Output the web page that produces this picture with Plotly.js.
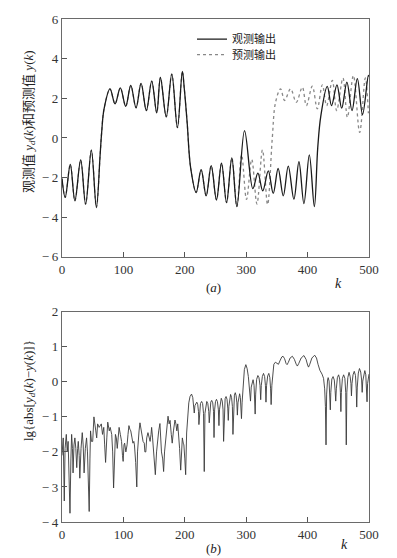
<!DOCTYPE html>
<html>
<head>
<meta charset="utf-8">
<script src="https://cdn.plot.ly/plotly-3.0.1.min.js"></script>
<style>html,body{margin:0;padding:0;background:#fff;}#chart{width:397px;height:558px;}</style>
</head>
<body>
<div id="chart"></div>
<script>
// ---- Panel (a): observed output (solid) ----
const kObs = [0,5.2,13.5,21,30.4,38.5,47.8,56,62,64.6,68.5,78.2,86.4,95,103.8,112,120.6,128.8,137.4,146.1,154.3,160.3,169.8,178.8,188,196,199.2,203.8,209.5,218.5,226.6,234.8,243,251.6,259.8,268,276.6,284.8,297.3,310.8,319,327,336,344,352,360.4,368.5,377.7,385.9,394,402.8,411,416.5,421.5,432,439,447.8,455.5,464,472.3,481,489.5,499,500];
const yObs = [-2.05,-3.0,-1.33,-3.17,-1.11,-3.34,-0.61,-3.51,-0.9,0.28,1.47,2.48,1.72,2.53,1.6,2.65,1.52,2.75,1.38,2.87,1.27,3.05,1.07,3.22,0.52,3.36,2.48,0.79,-1.5,-2.75,-1.6,-2.92,-1.4,-3.12,-1.27,-3.26,-1.01,-3.46,0.37,-2.56,-1.77,-2.67,-1.66,-2.8,-1.54,-2.92,-1.42,-3.09,-1.2,-3.31,-0.85,-3.46,-0.5,1.1,2.6,1.63,2.68,1.5,2.82,1.38,2.99,1.18,3.15,3.1];

// ---- Panel (a): predicted output (dotted) ----
const kPred = [0,5.2,13.5,21,30.4,38.5,47.8,56,62,64.6,68.5,78.2,86.4,95,103.8,112,120.6,128.8,137.4,146.1,154.3,160.3,169.8,178.8,188,196,199.2,203.8,209.5,218.5,226.6,234.8,243,251.6,259.8,268,276.6,284.8,292.5,300.5,309,317.5,326.5,334.8,342.4,347.8,356,362.5,372.3,381.6,391.4,398,407.7,415.8,424,431,440.3,447.3,457.6,464.8,474.6,484.8,494,499];
const yPred = [-2.05,-3.0,-1.33,-3.17,-1.11,-3.34,-0.61,-3.51,-0.9,0.28,1.47,2.48,1.72,2.53,1.6,2.65,1.52,2.75,1.38,2.87,1.27,3.05,1.07,3.22,0.52,3.36,2.48,0.79,-1.5,-2.75,-1.6,-2.92,-1.4,-3.12,-1.27,-3.26,-1.01,-3.46,-0.85,-3.1,-1.08,-3.33,-0.6,-3.36,-0.05,1.8,2.48,1.89,2.48,1.8,2.56,1.63,2.61,1.47,2.68,1.63,2.9,1.38,3.02,1.04,3.15,0.28,3.03,1.25];

// ---- Panel (b): lg|yd - y| ----
const kErr = [0,2,3.7,5,7,8.5,10,11.5,13,14.5,15.7,17,18,19.5,21,22.5,24,25.5,26.5,28,29,31,33,34.5,36,38,40,41.5,42.5,44.3,45.5,46.5,48,50,52,53.5,55,56.5,58,60.5,62,64,66,68,69.5,71,73,74.5,77,78.5,81,82.5,84,85.5,87,88.5,90,91.5,93,95,97,98.5,99.6,101,102,104,106,107.5,109,110.5,112,114,115.5,117,118,120,121.8,123,124,125.5,127,129,130.5,132,134,135,136.5,138,140,142,143.5,145,146,147.5,149,150.5,152,154,155.5,157.5,159.5,161,162,164,165.5,167,168.5,170.5,172.7,174.5,176,178,179.5,181.5,184,185.5,187,188.5,190,191.5,193.3,195,196,197.5,198.5,200,201.4,
203,204.5,206.5,208.5,211,213,214.3,215.4,216.5,218,219.5,221,222.3,223,224,225.5,227.4,229,230.5,231.7,232.8,234.3,235.8,237.5,239,239.8,240.8,242.3,243.8,245.5,246.8,247.6,248.6,250,251.6,253.2,254.7,255.6,256.6,258,259.4,261,262.3,263.2,264.2,265.7,267.2,268.8,270,270.8,271.8,273.2,274.6,276.2,277.5,278.4,279.4,280.8,282.2,283.6,284.8,285.6,286.6,288,289.3,290.5,291.5,292.3,293.3,295,297,299.4,301.5,303.5,305.5,307,308.2,309.8,311.2,312.8,313.9,314.6,315.4,317,319,320.8,322.5,323.6,324.6,326.3,328.2,330,331.3,332.2,333.2,335,336.8,338.5,339.7,340.6,341.8,343.3,345,347.5,350,352.5,355.5,358,360,362.5,365,366.6,368.5,371.5,375.2,378.5,381.5,383.3,385.5,389.5,394,397.5,400,401.5,403.5,407,411.5,414.5,417,420,423.5,426,427.8,429,430,431,432.5,433.5,435,436.2,437,437.8,439.5,441.5,443.5,444.8,445.8,446.8,448.5,450.5,452.3,453.4,454.2,455,456.7,458.7,460.7,462.1,463,463.9,465.5,467.5,469.3,470.6,471.4,472.3,474,476,478,479.2,480,480.9,482.6,484.5,486.5,488,488.9,489.8,491.5,493.2,494.8,496,496.8,497.7,499,500];
const yErr = [-2.1,-1.6,-3.4,-1.9,-1.5,-2.0,-1.7,-2.6,-3.75,-2.2,-1.5,-1.9,-2.6,-1.8,-1.6,-1.9,-2.45,-1.9,-1.7,-2.1,-2.75,-1.9,-1.45,-1.8,-2.6,-1.9,-1.6,-2.0,-2.85,-3.7,-2.2,-1.4,-1.7,-1.7,-1.0,-1.3,-1.4,-1.6,-1.2,-1.3,-1.25,-1.2,-1.5,-1.3,-1.8,-2.3,-1.6,-1.15,-1.4,-1.3,-1.5,-2.0,-3.03,-1.9,-1.5,-1.6,-1.9,-1.6,-1.3,-1.5,-1.7,-2.1,-2.27,-1.8,-1.75,-2.0,-1.8,-1.5,-1.25,-1.35,-1.4,-1.6,-1.75,-1.7,-1.8,-2.3,-3.0,-2.0,-1.6,-1.4,-1.17,-1.4,-1.5,-1.7,-1.75,-2.0,-2.0,-1.6,-1.45,-1.6,-1.7,-1.5,-1.3,-1.6,-2.0,-2.2,-2.65,-2.0,-1.7,-1.4,-1.19,-1.6,-2.0,-2.2,-2.56,-2.0,-1.7,-1.3,-0.98,-1.2,-1.1,-1.5,-1.75,-1.4,-1.09,-1.2,-1.4,-1.2,-1.45,-1.9,-2.52,-1.8,-1.6,-1.75,-1.8,-2.2,-2.65,
-1.46,-0.95,-0.6,-0.42,-0.35,-0.45,-0.65,-0.89,-0.68,-0.6,-0.58,-0.64,-0.85,-1.22,-0.82,-0.62,-0.56,-0.62,-0.9,-2.56,-0.9,-0.62,-0.56,-0.62,-0.85,-1.17,-0.8,-0.58,-0.53,-0.6,-0.85,-1.59,-0.8,-0.56,-0.5,-0.57,-0.8,-1.25,-0.78,-0.52,-0.47,-0.55,-0.8,-1.7,-0.78,-0.48,-0.42,-0.5,-0.75,-1.1,-0.7,-0.42,-0.36,-0.45,-0.7,-1.5,-0.7,-0.38,-0.31,-0.4,-0.6,-0.95,-0.6,-0.38,-0.34,-0.45,-0.75,-1.05,-0.6,-0.05,0.35,0.49,0.38,0.15,-0.2,-0.55,-0.15,0.04,0.06,-0.1,-0.4,-0.92,-0.35,0.07,0.18,0.12,-0.1,-0.51,-0.1,0.15,0.24,0.15,-0.1,-0.58,-0.1,0.17,0.24,0.12,-0.2,-0.65,-0.1,0.35,0.5,0.56,0.52,0.5,0.62,0.71,0.73,0.66,0.52,0.49,0.55,0.68,0.73,0.64,0.5,0.45,0.52,0.68,0.75,0.64,0.48,0.42,0.5,0.68,0.76,0.68,0.5,0.33,0.22,0.1,-0.2,-0.7,-1.8,-0.35,0.05,0.12,0.02,-0.3,-0.8,-0.3,0.08,0.15,0.05,-0.25,-0.55,-0.2,0.12,0.2,0.08,-0.3,-0.85,-0.3,0.1,0.2,0.1,-0.3,-1.8,-0.3,0.12,0.27,0.15,-0.05,-0.4,-0.05,0.2,0.3,0.18,-0.2,-0.72,-0.15,0.25,0.38,0.28,0.05,-0.3,0.02,0.25,0.32,0.2,-0.1,-0.57,-0.05,0.2,0.22];

const xTicks = [0,100,200,300,400,500];
const xTickText = ['0','100','200','300','400','500'];
const yTicksA = [-6,-4,-2,0,2,4,6];
const yTickTextA = ['\u2212\u20096','\u2212\u20094','\u2212\u20092','0','2','4','6'];
const yTicksB = [-4,-3,-2,-1,0,1,2];
const yTickTextB = ['\u2212\u20094','\u2212\u20093','\u2212\u20092','\u2212\u20091','0','1','2'];

const serif = '"Liberation Serif", "DejaVu Serif", serif';
const cjk = '"Liberation Serif", "Noto Sans CJK SC", serif';

const traces = [
  {x: kPred, y: yPred, type: 'scatter', mode: 'lines', name: '预测输出', xaxis: 'x', yaxis: 'y',
   line: {color: '#888', width: 1.3, dash: 'dot', shape: 'spline', smoothing: 1}, legend: 'legend2'},
  {x: kObs, y: yObs, type: 'scatter', mode: 'lines', name: '观测输出', xaxis: 'x', yaxis: 'y',
   line: {color: '#1a1a1a', width: 1.3, shape: 'spline', smoothing: 1}, legend: 'legend'},
  {x: kErr, y: yErr, type: 'scatter', mode: 'lines', name: 'err', xaxis: 'x2', yaxis: 'y2',
   line: {color: '#3a3a3a', width: 0.9}, showlegend: false}
];

const axisCommon = {
  showgrid: false, zeroline: false, showline: true, mirror: true,
  linecolor: '#6a6a6a', linewidth: 1.2, ticks: 'inside', ticklen: 5, tickwidth: 1, tickcolor: '#555',
  tickfont: {family: serif, size: 13, color: '#333'}
};

const layout = {
  width: 397, height: 558,
  margin: {l: 62, r: 28, t: 19, b: 36},
  paper_bgcolor: '#fff', plot_bgcolor: '#fff',
  xaxis: Object.assign({}, axisCommon, {range: [0, 500], anchor: 'y', tickvals: xTicks, ticktext: xTickText}),
  yaxis: Object.assign({}, axisCommon, {range: [-6, 6], domain: [0.527, 1], anchor: 'x', tickvals: yTicksA, ticktext: yTickTextA}),
  xaxis2: Object.assign({}, axisCommon, {range: [0, 500], anchor: 'y2', tickvals: xTicks, ticktext: xTickText}),
  yaxis2: Object.assign({}, axisCommon, {range: [-4, 2], domain: [0, 0.418], anchor: 'x2', tickvals: yTicksB, ticktext: yTickTextB}),
  legend: {x: 0.4235, y: 0.96, xanchor: 'left', yanchor: 'middle', bgcolor: 'rgba(0,0,0,0)',
    font: {family: 'Noto Sans CJK SC', size: 11, color: '#222'}},
  legend2: {x: 0.4235, y: 0.929, xanchor: 'left', yanchor: 'middle', bgcolor: 'rgba(0,0,0,0)',
    font: {family: 'Noto Sans CJK SC', size: 11, color: '#222'}},
  annotations: [
    {xref: 'paper', yref: 'paper', x: -0.108, y: 0.797, textangle: -90, showarrow: false,
     text: '观测值 <i>y<sub>d</sub></i>(<i>k</i>)和预测值 <i>y</i>(<i>k</i>)',
     font: {family: cjk, size: 13, color: '#222'}, xanchor: 'center', yanchor: 'middle'},
    {xref: 'paper', yref: 'paper', x: -0.108, y: 0.262, textangle: -90, showarrow: false,
     text: 'lg{abs[<i>y<sub>d</sub></i>(<i>k</i>)\u2212<i>y</i>(<i>k</i>)]}',
     font: {family: serif, size: 13, color: '#222'}, xanchor: 'center', yanchor: 'middle'},
    {xref: 'paper', yref: 'paper', x: 0.495, y: 0.467, showarrow: false, text: '(<i>a</i>)',
     xanchor: 'center', yanchor: 'middle', font: {family: serif, size: 13, color: '#222'}},
    {xref: 'paper', yref: 'paper', x: 0.902, y: 0.475, showarrow: false, text: '<i>k</i>',
     xanchor: 'center', yanchor: 'middle', font: {family: serif, size: 14, color: '#222'}},
    {xref: 'paper', yref: 'paper', x: 0.495, y: -0.0517, showarrow: false, text: '(<i>b</i>)',
     xanchor: 'center', yanchor: 'middle', font: {family: serif, size: 13, color: '#222'}},
    {xref: 'paper', yref: 'paper', x: 0.92, y: -0.044, showarrow: false, text: '<i>k</i>',
     xanchor: 'center', yanchor: 'middle', font: {family: serif, size: 14, color: '#222'}}
  ]
};

Plotly.newPlot('chart', traces, layout, {displayModeBar: false, staticPlot: true});
</script>
</body>
</html>
